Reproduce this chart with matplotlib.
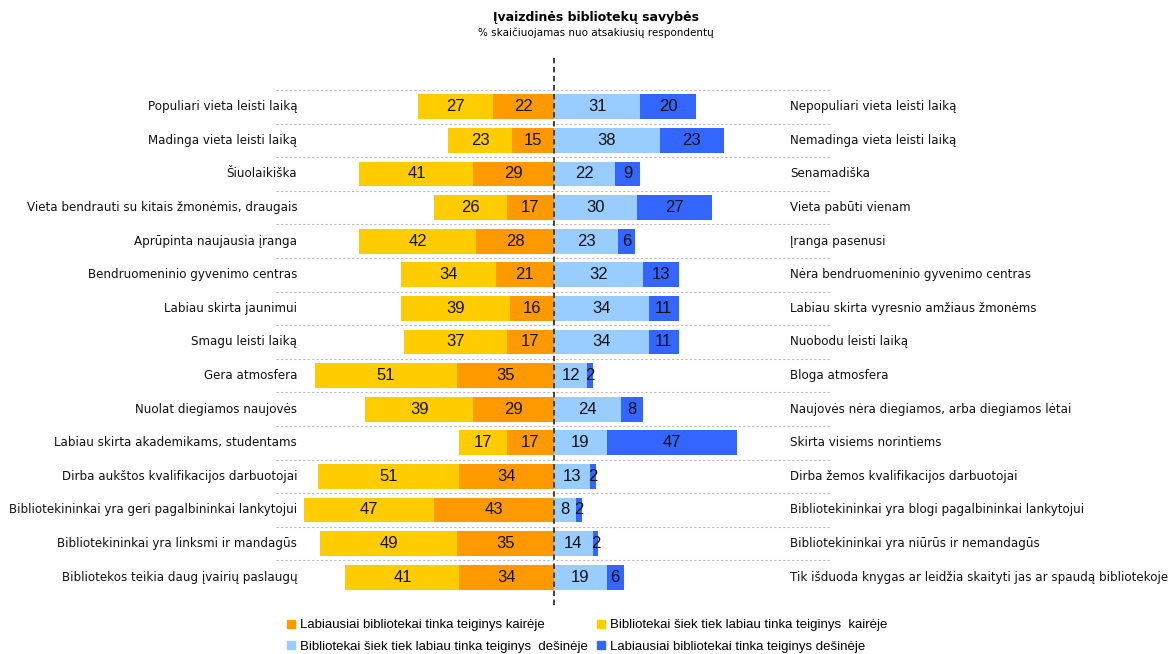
import matplotlib.pyplot as plt
from matplotlib.patches import Patch
import numpy as np

# Left-side statements (top to bottom) and their right-side opposites
left_labels = [
    'Populiari vieta leisti laiką',
    'Madinga vieta leisti laiką',
    'Šiuolaikiška',
    'Vieta bendrauti su kitais žmonėmis, draugais',
    'Aprūpinta naujausia įranga',
    'Bendruomeninio gyvenimo centras',
    'Labiau skirta jaunimui',
    'Smagu leisti laiką',
    'Gera atmosfera',
    'Nuolat diegiamos naujovės',
    'Labiau skirta akademikams, studentams',
    'Dirba aukštos kvalifikacijos darbuotojai',
    'Bibliotekininkai yra geri pagalbininkai lankytojui',
    'Bibliotekininkai yra linksmi ir mandagūs',
    'Bibliotekos teikia daug įvairių paslaugų',
]
right_labels = [
    'Nepopuliari vieta leisti laiką',
    'Nemadinga vieta leisti laiką',
    'Senamadiška',
    'Vieta pabūti vienam',
    'Įranga pasenusi',
    'Nėra bendruomeninio gyvenimo centras',
    'Labiau skirta vyresnio amžiaus žmonėms',
    'Nuobodu leisti laiką',
    'Bloga atmosfera',
    'Naujovės nėra diegiamos, arba diegiamos lėtai',
    'Skirta visiems norintiems',
    'Dirba žemos kvalifikacijos darbuotojai',
    'Bibliotekininkai yra blogi pagalbininkai lankytojui',
    'Bibliotekininkai yra niūrūs ir nemandagūs',
    'Tik išduoda knygas ar leidžia skaityti jas ar spaudą bibliotekoje',
]

# % of respondents
left_slight = [27, 23, 41, 26, 42, 34, 39, 37, 51, 39, 17, 51, 47, 49, 41]
left_most = [22, 15, 29, 17, 28, 21, 16, 17, 35, 29, 17, 34, 43, 35, 34]
right_slight = [31, 38, 22, 30, 23, 32, 34, 34, 12, 24, 19, 13, 8, 14, 19]
right_most = [20, 23, 9, 27, 6, 13, 11, 11, 2, 8, 47, 2, 2, 2, 6]

legend_labels = [
    'Labiausiai bibliotekai tinka teiginys kairėje',
    'Bibliotekai šiek tiek labiau tinka teiginys  dešinėje',
    'Bibliotekai šiek tiek labiau tinka teiginys  kairėje',
    'Labiausiai bibliotekai tinka teiginys dešinėje',
]

c_most_l = '#FF9900'
c_slight_l = '#FFCC00'
c_slight_r = '#99CCFF'
c_most_r = '#3366FF'

fig = plt.figure(figsize=(11.73, 6.54), dpi=100)
ax = fig.add_axes([276 / 1173, 60 / 654, 556 / 1173, 504 / 654])

n = len(left_labels)
y = np.arange(n)
lm = np.array(left_most)
ls = np.array(left_slight)
rs = np.array(right_slight)
rm = np.array(right_most)
h = 0.74

bars = [
    ax.barh(y, -lm, height=h, color=c_most_l),
    ax.barh(y, -ls, left=-lm, height=h, color=c_slight_l),
    ax.barh(y, rs, height=h, color=c_slight_r),
    ax.barh(y, rm, left=rs, height=h, color=c_most_r),
]
for b, vals in zip(bars, [lm, ls, rs, rm]):
    ax.bar_label(b, labels=[str(v) for v in vals], label_type='center',
                 fontsize=12, fontfamily='Liberation Sans', color='#111111')

# row separators
for s in np.arange(-0.5, n, 1.0):
    ax.axhline(s, color='#BBBBBB', linestyle=(0, (2, 2)), linewidth=0.8, zorder=0)

# center dashed line, sticking out above and below the rows
ax.plot([0, 0], [-0.022, 1.063], transform=ax.get_xaxis_transform(),
        color='#333333', linestyle=(0, (3, 2)), linewidth=1.3, clip_on=False, zorder=5)

for i in range(n):
    ax.text(-92.4, i, left_labels[i], ha='right', va='center', fontsize=8.6,
            family='DejaVu Sans', color='#111111')
    ax.text(84.9, i, right_labels[i], ha='left', va='center', fontsize=8.6,
            family='DejaVu Sans', color='#111111')

ax.set_xlim(-100, 100)
ax.set_ylim(n - 0.5, -0.5)
ax.axis('off')

fig.text(596 / 1173, 1 - 17 / 654, 'Įvaizdinės bibliotekų savybės', ha='center', va='center',
         fontsize=9, fontweight='bold', family='DejaVu Sans')
fig.text(596 / 1173, 1 - 33 / 654, '% skaičiuojamas nuo atsakiusių respondentų', ha='center',
         va='center', fontsize=7.5, family='DejaVu Sans')

handles = [Patch(color=c_most_l), Patch(color=c_slight_r),
           Patch(color=c_slight_l), Patch(color=c_most_r)]
fig.legend(handles, legend_labels, ncol=2, frameon=False, handlelength=0.6,
           handleheight=0.6, handletextpad=0.35, columnspacing=0.75, labelspacing=0.7,
           borderaxespad=0, borderpad=0, prop={'family': 'Liberation Sans', 'size': 9.5},
           loc='center left', bbox_to_anchor=(287 / 1173, 1 - 636 / 654))

fig.savefig('out.png', dpi=100)
